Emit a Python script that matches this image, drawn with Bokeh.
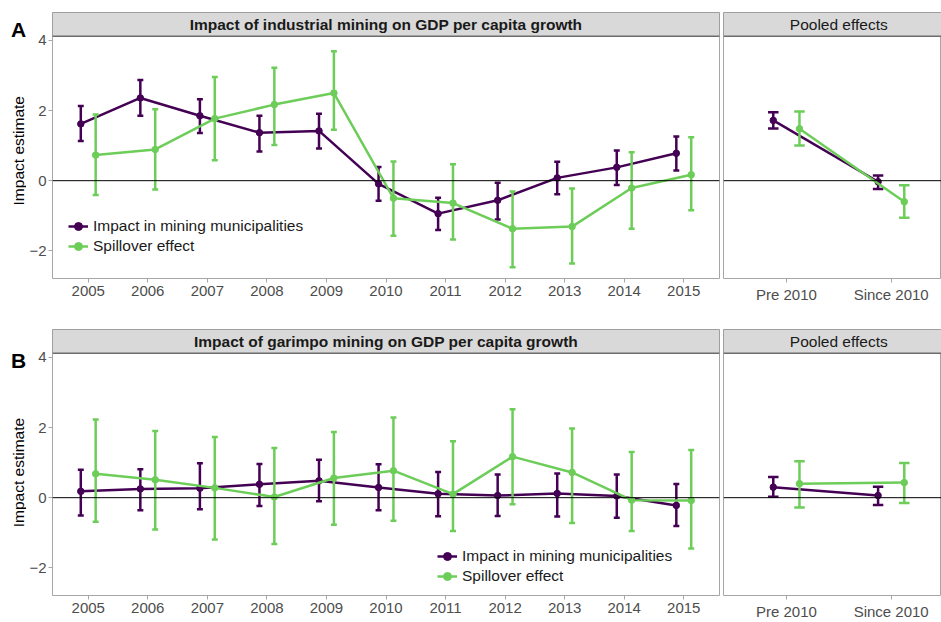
import math
from bokeh.plotting import figure
from bokeh.layouts import column, row
from bokeh.models import Range1d, FixedTicker, Span, Legend, LegendItem
from bokeh.core.properties import value
from bokeh.embed import file_html
from bokeh.resources import INLINE

# ---------------- data ----------------
years = [2005, 2006, 2007, 2008, 2009, 2010, 2011, 2012, 2013, 2014, 2015]
periods = ["Pre 2010", "Since 2010"]
series_names = ["Impact in mining municipalities", "Spillover effect"]
panel_titles = ["Impact of industrial mining on GDP per capita growth",
                "Impact of garimpo mining on GDP per capita growth"]
pooled_title = "Pooled effects"
panel_tags = ["A", "B"]
y_title = "Impact estimate"
y_ticks = [-2, 0, 2, 4]

ind_mun = [1.62, 2.36, 1.85, 1.37, 1.42, -0.09, -0.94, -0.56, 0.08, 0.38, 0.78]
ind_mun_lo = [1.13, 1.85, 1.36, 0.83, 0.92, -0.57, -1.41, -1.11, -0.39, -0.12, 0.29]
ind_mun_hi = [2.13, 2.87, 2.32, 1.85, 1.91, 0.39, -0.49, -0.06, 0.54, 0.86, 1.26]
ind_spill = [0.73, 0.89, 1.77, 2.17, 2.50, -0.50, -0.64, -1.37, -1.31, -0.21, 0.17]
ind_spill_lo = [-0.41, -0.25, 0.58, 1.02, 1.45, -1.57, -1.68, -2.47, -2.36, -1.37, -0.84]
ind_spill_hi = [1.89, 2.04, 2.96, 3.22, 3.69, 0.55, 0.47, -0.31, -0.22, 0.81, 1.24]
ind_pool_mun = [1.72, -0.03]
ind_pool_mun_lo = [1.49, -0.24]
ind_pool_mun_hi = [1.95, 0.15]
ind_pool_spill = [1.48, -0.60]
ind_pool_spill_lo = [1.00, -1.06]
ind_pool_spill_hi = [1.97, -0.13]

gar_mun = [0.18, 0.25, 0.27, 0.38, 0.48, 0.29, 0.11, 0.06, 0.12, 0.05, -0.22]
gar_mun_lo = [-0.51, -0.36, -0.33, -0.24, -0.10, -0.36, -0.53, -0.52, -0.54, -0.57, -0.81]
gar_mun_hi = [0.80, 0.81, 0.98, 0.96, 1.08, 0.95, 0.73, 0.66, 0.69, 0.66, 0.39]
gar_spill = [0.68, 0.51, 0.28, 0.02, 0.56, 0.77, 0.10, 1.17, 0.72, -0.07, -0.08]
gar_spill_lo = [-0.69, -0.91, -1.19, -1.32, -0.77, -0.66, -0.95, -0.19, -0.72, -0.95, -1.45]
gar_spill_hi = [2.23, 1.90, 1.73, 1.42, 1.87, 2.29, 1.61, 2.52, 1.97, 1.30, 1.36]
gar_pool_mun = [0.30, 0.06]
gar_pool_mun_lo = [0.03, -0.21]
gar_pool_mun_hi = [0.59, 0.31]
gar_pool_spill = [0.40, 0.43]
gar_pool_spill_lo = [-0.28, -0.15]
gar_pool_spill_hi = [1.04, 0.99]

# ---------------- style / layout ----------------
PURPLE = "#440154"
GREEN = "#6DCD59"
FONT = "Liberation Sans"
TICK_COL = "#4d4d4d"
BORDER = "#a6a6a6"
STRIP_FILL = "#d9d9d9"
STRIP_LINE = "#8c8c8c"

TAG_W = 26
LEFT_MB = 26
LEFT_W = 695
RIGHT_W = 220
STRIP_H = 24
PLOT_H = 245
FRAME_H = STRIP_H + PLOT_H
BOTTOM_MB = 24
Y_BOT, Y_TOP = -2.79, 4.12
PX_Y = (Y_TOP - Y_BOT) / PLOT_H
Y_END = Y_TOP + STRIP_H * PX_Y
DODGE = 0.125
CAP = 0.05
POOL_UNIT = 104.8


def style_axes(p, show_y):
    p.xgrid.visible = False
    p.ygrid.visible = False
    p.outline_line_color = BORDER
    p.outline_line_width = 1
    for ax in p.xaxis:
        ax.axis_line_color = None
        ax.major_tick_line_color = BORDER
        ax.major_tick_in = 0
        ax.major_tick_out = 4
        ax.minor_tick_line_color = None
        ax.major_label_text_font = FONT
        ax.major_label_text_font_size = "15px"
        ax.major_label_text_color = TICK_COL
        ax.major_label_standoff = 3
    if show_y:
        for ax in p.yaxis:
            ax.axis_line_color = None
            ax.major_tick_line_color = BORDER
            ax.major_tick_in = 0
            ax.major_tick_out = 4
            ax.minor_tick_line_color = None
            ax.major_label_text_font = FONT
            ax.major_label_text_font_size = "15px"
            ax.major_label_text_color = TICK_COL
            ax.major_label_standoff = 2
            ax.axis_label_standoff = 0
            ax.ticker = FixedTicker(ticks=y_ticks)
    else:
        for ax in p.yaxis:
            ax.visible = False
    p.add_layout(Span(location=0, dimension="width", line_color="black", line_width=1))


def draw_strip(p, x0, x1, title, bold):
    p.quad(left=[x0], right=[x1], bottom=[Y_TOP], top=[Y_END],
           fill_color=STRIP_FILL, line_color=STRIP_LINE, line_width=1)
    p.segment([x0], [Y_TOP], [x1], [Y_TOP], line_color="#555555", line_width=1)
    p.text(x=[(x0 + x1) / 2], y=[(Y_TOP + Y_END) / 2], text=[title],
           text_font=value(FONT), text_font_size="15.5px",
           text_font_style="bold" if bold else "normal",
           text_align="center", text_baseline="middle", text_color="#1a1a1a")


def draw_series(p, xs, ys, lo, hi, color):
    line = p.line(xs, ys, line_color=color, line_width=2.5)
    p.segment(xs, lo, xs, hi, line_color=color, line_width=2.5)
    p.segment([x - CAP for x in xs], lo, [x + CAP for x in xs], lo, line_color=color, line_width=2.5)
    p.segment([x - CAP for x in xs], hi, [x + CAP for x in xs], hi, line_color=color, line_width=2.5)
    pts = p.scatter(xs, ys, size=6.5, fill_color=color, line_color=color)
    return [line, pts]


def make_tag_column(top_mb, tag, tag_dy):
    height = top_mb + FRAME_H + BOTTOM_MB
    t = figure(width=TAG_W, height=height, x_range=Range1d(0, TAG_W), y_range=Range1d(0, height),
               output_backend="svg", toolbar_location=None, min_border=0)
    t.axis.visible = False
    t.grid.visible = False
    t.outline_line_color = None
    t.text(x=[10.5], y=[height - top_mb + tag_dy], text=[tag], text_font=value(FONT),
           text_font_size="21px", text_font_style="bold", text_align="left",
           text_baseline="middle", text_color="black")
    t.text(x=[18], y=[BOTTOM_MB + PLOT_H / 2], text=[y_title], angle=math.pi / 2,
           text_font=value(FONT), text_font_size="15.5px", text_align="center",
           text_baseline="middle", text_color="black")
    return t


def make_panel(top_mb, tag, tag_dy, title, mun, mun_lo, mun_hi, spill, spill_lo, spill_hi,
               pmun, pmun_lo, pmun_hi, pspill, pspill_lo, pspill_hi, legend_xy):
    height = top_mb + FRAME_H + BOTTOM_MB
    x0, x1 = years[0] - 0.6, years[-1] + 0.6
    pl = figure(width=LEFT_W, height=height,
                x_range=Range1d(x0, x1), y_range=Range1d(Y_BOT, Y_END),
                output_backend="svg", toolbar_location=None,
                min_border_left=LEFT_MB, min_border_right=2, min_border_top=top_mb,
                min_border_bottom=BOTTOM_MB)
    style_axes(pl, True)
    pl.xaxis.ticker = FixedTicker(ticks=years)
    draw_strip(pl, x0, x1, title, True)
    r1 = draw_series(pl, [y - DODGE for y in years], mun, mun_lo, mun_hi, PURPLE)
    r2 = draw_series(pl, [y + DODGE for y in years], spill, spill_lo, spill_hi, GREEN)
    leg = Legend(items=[LegendItem(label=series_names[0], renderers=r1),
                        LegendItem(label=series_names[1], renderers=r2)],
                 location=legend_xy, padding=0, margin=0, spacing=0,
                 glyph_width=20, glyph_height=20, label_height=20, label_standoff=5,
                 label_text_font=FONT, label_text_font_size="15.5px", label_text_color="#1a1a1a",
                 background_fill_alpha=0, border_line_alpha=0)
    pl.add_layout(leg)

    idx = list(range(1, len(periods) + 1))
    frame_w = RIGHT_W - 2
    pr = figure(width=RIGHT_W, height=height,
                x_range=Range1d(idx[0] - 0.6, idx[0] - 0.6 + frame_w / POOL_UNIT),
                y_range=Range1d(Y_BOT, Y_END),
                output_backend="svg", toolbar_location=None,
                min_border_left=2, min_border_right=0, min_border_top=top_mb,
                min_border_bottom=BOTTOM_MB)
    style_axes(pr, False)
    pr.xaxis.ticker = FixedTicker(ticks=idx)
    pr.xaxis.major_label_overrides = {i: lab for i, lab in zip(idx, periods)}
    draw_strip(pr, idx[0] - 0.6, idx[-1] + 0.6, pooled_title, False)
    draw_series(pr, [i - DODGE for i in idx], pmun, pmun_lo, pmun_hi, PURPLE)
    draw_series(pr, [i + DODGE for i in idx], pspill, pspill_lo, pspill_hi, GREEN)
    return row(make_tag_column(top_mb, tag, tag_dy), pl, pr)


panelA = make_panel(12, panel_tags[0], -7, panel_titles[0],
                    ind_mun, ind_mun_lo, ind_mun_hi, ind_spill, ind_spill_lo, ind_spill_hi,
                    ind_pool_mun, ind_pool_mun_lo, ind_pool_mun_hi,
                    ind_pool_spill, ind_pool_spill_lo, ind_pool_spill_hi, (16, 22))
panelB = make_panel(24, panel_tags[1], -12.5, panel_titles[1],
                    gar_mun, gar_mun_lo, gar_mun_hi, gar_spill, gar_spill_lo, gar_spill_hi,
                    gar_pool_mun, gar_pool_mun_lo, gar_pool_mun_hi,
                    gar_pool_spill, gar_pool_spill_lo, gar_pool_spill_hi, (385, 9))

layout = column(panelA, panelB)
open("out.html", "w").write(file_html(layout, INLINE))
